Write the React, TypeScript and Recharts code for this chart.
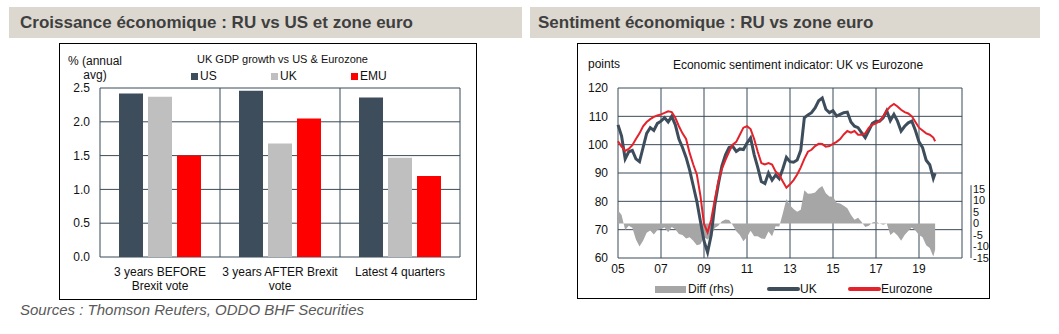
import React from 'react';
import {
  BarChart, Bar, XAxis, YAxis, CartesianGrid, ComposedChart, Line, Area, ReferenceLine,
} from 'recharts';

const FONT = '"Liberation Sans", Arial, sans-serif';
const GRID = '#3b4a58';
const SLATE = '#3e4d5c';
const LINE_RED = '#e3222b';
const DIFF_GREY = '#a6a6a6';

// Left chart: UK GDP growth vs US & Eurozone
const periods = ['3 years BEFORE|Brexit vote', '3 years AFTER Brexit|vote', 'Latest 4 quarters'];
const usGrowth = [2.42, 2.46, 2.36];
const ukGrowth = [2.37, 1.68, 1.47];
const emuGrowth = [1.5, 2.05, 1.2];
const growthTicks = [0, 0.5, 1, 1.5, 2, 2.5];

// Right chart: economic sentiment indicator (bi-monthly readings)
const sentimentMonths = [
  '2005-01', '2005-03', '2005-05', '2005-07', '2005-09', '2005-11',
  '2006-01', '2006-03', '2006-05', '2006-07', '2006-09', '2006-11',
  '2007-01', '2007-03', '2007-05', '2007-07', '2007-09', '2007-11',
  '2008-01', '2008-03', '2008-05', '2008-07', '2008-09', '2008-11',
  '2009-01', '2009-03', '2009-05', '2009-07', '2009-09', '2009-11',
  '2010-01', '2010-03', '2010-05', '2010-07', '2010-09', '2010-11',
  '2011-01', '2011-03', '2011-05', '2011-07', '2011-09', '2011-11',
  '2012-01', '2012-03', '2012-05', '2012-07', '2012-09', '2012-11',
  '2013-01', '2013-03', '2013-05', '2013-07', '2013-09', '2013-11',
  '2014-01', '2014-03', '2014-05', '2014-07', '2014-09', '2014-11',
  '2015-01', '2015-03', '2015-05', '2015-07', '2015-09', '2015-11',
  '2016-01', '2016-03', '2016-05', '2016-07', '2016-09', '2016-11',
  '2017-01', '2017-03', '2017-05', '2017-07', '2017-09', '2017-11',
  '2018-01', '2018-03', '2018-05', '2018-07', '2018-09', '2018-11',
  '2019-01', '2019-03', '2019-05', '2019-07', '2019-09', '2019-10',
];
const ukSentiment = [
  107, 103, 95, 97.5, 98, 95,
  94, 99, 104, 106, 105, 107.5,
  108.3, 109.5, 108, 110, 107, 102,
  99, 95.5, 91, 85.5, 80, 73,
  66, 62, 68, 78.6, 86, 92.5,
  96.4, 99, 99.4, 97.6, 98.5, 98.3,
  100.6, 102.4, 96.5, 92, 87, 86.3,
  90, 87.5, 89.3, 88, 91.5, 95.5,
  94, 93.8, 94.6, 98, 109.5, 110.5,
  111.3, 113, 115.5, 116.5, 112.5, 111.3,
  112, 110.1, 110.7, 111.3, 111.5, 108,
  106.5, 106, 104.2, 102.5, 105, 107.5,
  108.3, 108.3, 109.5, 112, 108.5, 110.7,
  108.3, 104.8, 106.5, 107.7, 108.3, 105,
  101, 99, 94.5, 92.9, 88.1, 89.9,
];
const ezSentiment = [
  101.2, 99.3, 97.8, 98.5, 99.8, 102,
  104, 106.5, 108, 109, 109.8, 110.3,
  110.7, 111.2, 111.8, 111.5, 109.5, 106.5,
  104, 102, 97, 93, 89.5, 82,
  72, 69, 73.5, 80.5, 87, 91.5,
  94.6, 97.5, 100, 101, 103.5, 106,
  106.5, 105.5, 102, 97.5, 93.5, 93,
  93.5, 93, 90.5, 89.3, 87, 84.8,
  86, 87.5, 89.5, 92, 95, 97.5,
  98.2, 99.5, 100.3, 100.2, 99.3, 99.5,
  100.3, 101, 102, 103.6, 104.8, 104.2,
  104.8, 103.5, 103.5, 104, 106, 107,
  107.5, 108.3, 110, 112, 113.5, 114.4,
  113.5, 112.3, 111.5, 111, 110, 108,
  106, 105, 104, 103.5, 102.5, 101.2,
];
const yearTicks = [2005, 2007, 2009, 2011, 2013, 2015, 2017, 2019, 2021];
const pointTicks = [60, 70, 80, 90, 100, 110, 120];
const diffTicks = [-15, -10, -5, 0, 5, 10, 15];

const gdpData = periods.map((p, i) => ({
  period: p, US: usGrowth[i], UK: ukGrowth[i], EMU: emuGrowth[i],
}));

const sentimentData = sentimentMonths.map((m, i) => {
  const [y, mo] = m.split('-').map(Number);
  return {
    t: y + (mo - 1) / 12,
    uk: ukSentiment[i],
    ez: ezSentiment[i],
    diff: +(ukSentiment[i] - ezSentiment[i]).toFixed(1),
  };
});

const PeriodTick = ({ x, y, payload }: any) => {
  const lines = String(payload.value).split('|');
  return (
    <text x={x} y={y} textAnchor="middle" fontSize={12} fill="#111" fontFamily={FONT}>
      {lines.map((l, i) => (
        <tspan key={i} x={x} dy={i === 0 ? 11 : 14}>{l}</tspan>
      ))}
    </text>
  );
};

const abs = (left: number, top: number, extra: React.CSSProperties = {}): React.CSSProperties => ({
  position: 'absolute', left, top, ...extra,
});

const Swatch = ({ color }: { color: string }) => (
  <span style={{ display: 'inline-block', width: 7, height: 7, background: color, marginRight: 2 }} />
);

const tickStyle = { fontSize: 12, fill: '#111', fontFamily: FONT };
const rhsTickStyle = { fontSize: 11, fill: '#111', fontFamily: FONT };

const headerStyle: React.CSSProperties = {
  height: 31, background: '#dcd8cf', fontWeight: 'bold', fontSize: 17, lineHeight: '31px',
  color: '#3f3f3f', boxSizing: 'border-box', whiteSpace: 'nowrap',
};

export default function App() {
  return (
    <div style={{ position: 'absolute', left: 0, top: 0, width: 1059, height: 334, background: '#fff', fontFamily: FONT, color: '#111' }}>
      {/* section headers */}
      <div style={abs(9, 7, { ...headerStyle, width: 513, paddingLeft: 11 })}>
        Croissance économique : RU vs US et zone euro
      </div>
      <div style={abs(530, 7, { ...headerStyle, width: 510, paddingLeft: 8 })}>
        Sentiment économique : RU vs zone euro
      </div>

      {/* left chart */}
      <div style={abs(59, 43, { width: 418, height: 257, border: '1px solid #000', boxSizing: 'border-box' })} />
      <div style={abs(65, 54, { width: 60, textAlign: 'center', fontSize: 12, lineHeight: '14px' })}>
        % (annual<br />avg)
      </div>
      <div style={abs(160, 53, { width: 245, textAlign: 'center', fontSize: 11 })}>UK GDP growth vs US &amp; Eurozone</div>
      <div style={abs(191, 69, { fontSize: 12, lineHeight: '14px' })}><Swatch color={SLATE} />US</div>
      <div style={abs(271, 69, { fontSize: 12, lineHeight: '14px' })}><Swatch color="#bfbfbf" />UK</div>
      <div style={abs(351, 69, { fontSize: 12, lineHeight: '14px' })}><Swatch color="#ff0000" />EMU</div>
      <div style={abs(59, 43)}>
        <BarChart width={418} height={257} data={gdpData} margin={{ top: 45, right: 17, left: 0, bottom: 13 }}
          barSize={24} barGap={5}>
          <CartesianGrid stroke={GRID} strokeWidth={1}
            verticalCoordinatesGenerator={({ offset }: any) => [0, 1, 2, 3].map((i) => offset.left + (offset.width * i) / 3)} />
          <XAxis dataKey="period" height={30} axisLine={false} tickLine={false} tickSize={0} tickMargin={8}
            tick={<PeriodTick />} interval={0} />
          <YAxis width={41} domain={[0, 2.5]} ticks={growthTicks} axisLine={false} tickLine={false}
            tickSize={0} tickMargin={10} tick={tickStyle} tickFormatter={(v: number) => v.toFixed(1)} />
          <Bar dataKey="US" fill={SLATE} isAnimationActive={false} />
          <Bar dataKey="UK" fill="#bfbfbf" isAnimationActive={false} />
          <Bar dataKey="EMU" fill="#ff0000" isAnimationActive={false} />
        </BarChart>
      </div>

      {/* right chart */}
      <div style={abs(577, 43, { width: 413, height: 256, border: '1px solid #000', boxSizing: 'border-box' })} />
      <div style={abs(588, 57, { fontSize: 12 })}>points</div>
      <div style={abs(660, 58, { width: 276, textAlign: 'center', fontSize: 12 })}>Economic sentiment indicator: UK vs Eurozone</div>
      <div style={abs(577, 43)}>
        <ComposedChart width={412} height={255} data={sentimentData} margin={{ top: 45, right: 0, left: 0, bottom: 18 }}>
          <CartesianGrid yAxisId="left" stroke={GRID} strokeWidth={1} />
          <XAxis dataKey="t" type="number" domain={[2005, 2021]} ticks={yearTicks} height={22}
            axisLine={false} tickLine={false} tickSize={0} tickMargin={6} tick={tickStyle}
            tickFormatter={(v: number) => (v >= 2021 ? '' : String(v).slice(2))} />
          <YAxis yAxisId="left" width={41} domain={[60, 120]} ticks={pointTicks} axisLine={false}
            tickLine={false} tickSize={0} tickMargin={10} tick={tickStyle} />
          <YAxis yAxisId="right" orientation="right" width={27} domain={[-15, 59]} ticks={diffTicks}
            axisLine={false} tickLine={false} tickSize={0} tickMargin={11} tick={rhsTickStyle} interval={0} />
          <Area yAxisId="right" dataKey="diff" baseValue={0} type="linear" fill={DIFF_GREY} fillOpacity={1}
            stroke="none" isAnimationActive={false} />
          <Line yAxisId="left" dataKey="uk" type="linear" stroke={SLATE} strokeWidth={3} dot={false}
            isAnimationActive={false} />
          <Line yAxisId="left" dataKey="ez" type="linear" stroke={LINE_RED} strokeWidth={2} dot={false}
            isAnimationActive={false} />
          <ReferenceLine yAxisId="right" ifOverflow="visible" stroke={GRID} strokeWidth={1}
            segment={[{ x: 2021.42, y: -15 }, { x: 2021.42, y: 16.7 }]} />
        </ComposedChart>
      </div>
      <div style={abs(655, 282, { fontSize: 12, lineHeight: '14px', display: 'flex', alignItems: 'center' })}>
        <span style={{ display: 'inline-block', width: 31, height: 7, background: DIFF_GREY, marginRight: 2 }} />Diff (rhs)
      </div>
      <div style={abs(767, 282, { fontSize: 12, lineHeight: '14px', display: 'flex', alignItems: 'center' })}>
        <span style={{ display: 'inline-block', width: 33, height: 4, borderRadius: 2, background: SLATE }} />UK
      </div>
      <div style={abs(848, 282, { fontSize: 12, lineHeight: '14px', display: 'flex', alignItems: 'center' })}>
        <span style={{ display: 'inline-block', width: 33, height: 4, borderRadius: 2, background: LINE_RED }} />Eurozone
      </div>

      <div style={abs(20, 301, { fontSize: 15, fontStyle: 'italic', color: '#595959' })}>
        Sources : Thomson Reuters, ODDO BHF Securities
      </div>
    </div>
  );
}
